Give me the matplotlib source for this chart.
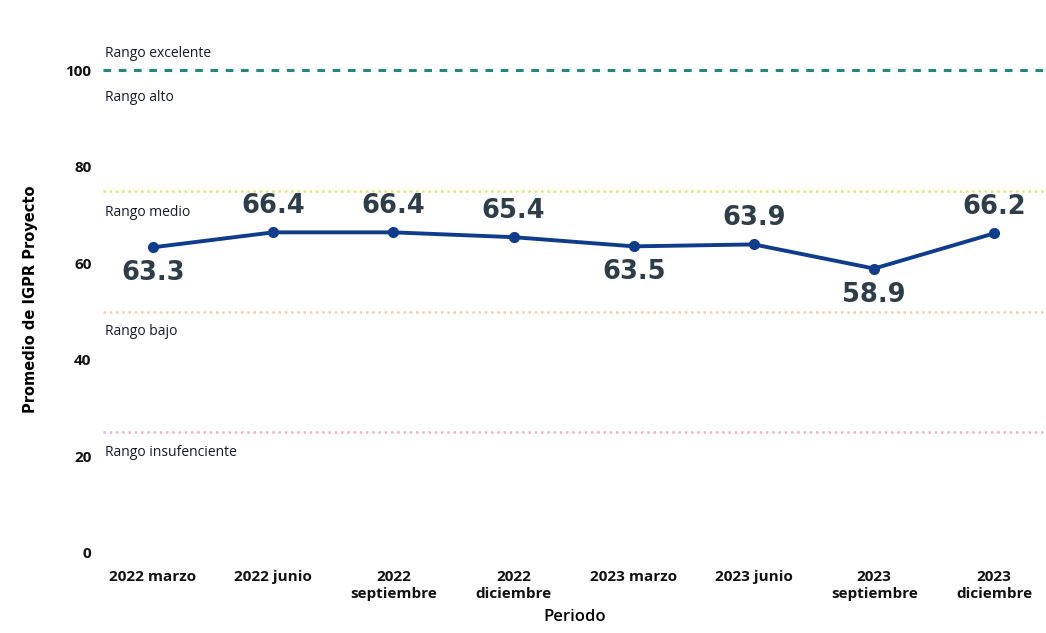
import matplotlib
matplotlib.use("Agg")
import matplotlib.pyplot as plt

# data
periodos = ["2022 marzo", "2022 junio", "2022\nseptiembre", "2022\ndiciembre",
            "2023 marzo", "2023 junio", "2023\nseptiembre", "2023\ndiciembre"]
igpr = [63.3, 66.4, 66.4, 65.4, 63.5, 63.9, 58.9, 66.2]
label_above = [False, True, True, True, False, True, False, True]

umbrales = [100, 75, 50, 25]
umbral_colores = ["#1f8a7a", "#dfe86a", "#f3cfa8", "#f5b3c0"]
rangos = ["Rango excelente", "Rango alto", "Rango medio", "Rango bajo", "Rango insufenciente"]
rango_y = [103.5, 94.4, 70.6, 45.8, 20.9]

fig = plt.figure(figsize=(10.46, 6.33), dpi=100)
ax = fig.add_axes([0.098, 0.1264, 0.902, 0.801])

txt_font = "Open Sans"

for u, c in zip(umbrales, umbral_colores):
    lw = 2.2 if u == 100 else 1.8
    ls = (0, (2.5, 2.5)) if u == 100 else (0, (1, 1.5))
    ax.axhline(u, color=c, lw=lw, ls=ls, zorder=1)

for r, yv in zip(rangos, rango_y):
    ax.text(-0.40, yv, r, fontsize=10, family=txt_font, fontweight="medium",
            color="#15192a", va="center", ha="left")

x = list(range(len(periodos)))
ax.plot(x, igpr, color="#0f3d8c", lw=2.8, marker="o", ms=7, zorder=3)

for xi, v, up in zip(x, igpr, label_above):
    off = 26 if up else -26
    ax.annotate(f"{v:.1f}", (xi, v), xytext=(0, off / 1.389), textcoords="offset points",
                ha="center", va="center", fontsize=18.5, fontweight="bold",
                family="DejaVu Sans", color="#2e3d4a")

ax.set_xlim(-0.42, 7.43)
ax.set_ylim(0, 105)
ax.set_yticks([0, 20, 40, 60, 80, 100])
ax.set_xticks(x)
ax.set_xticklabels(periodos, fontsize=11, family=txt_font, fontweight="bold",
                   linespacing=1.3)
for lab in ax.get_yticklabels():
    lab.set_family(txt_font)
    lab.set_fontsize(11)
    lab.set_fontweight("bold")
ax.tick_params(length=0, pad=12, colors="#111111")
ax.tick_params(axis="y", pad=8)
for s in ax.spines.values():
    s.set_visible(False)

ax.set_xlabel("Periodo", fontsize=12, family=txt_font, fontweight="semibold", labelpad=6)
ax.set_ylabel("Promedio de IGPR Proyecto", fontsize=10.5, fontweight="bold",
              family="DejaVu Sans", labelpad=20)

fig.savefig("out.png", dpi=100)
